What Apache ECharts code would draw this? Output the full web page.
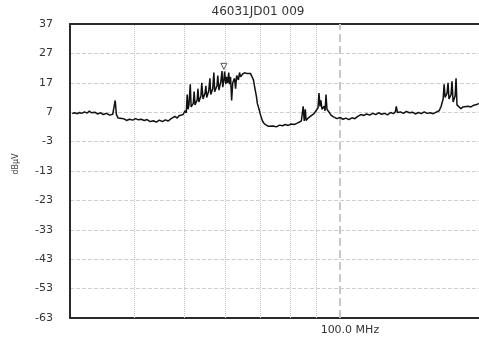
<!DOCTYPE html>
<html style="height: 100%">
<head>
<meta charset="utf-8">
<script src="https://cdn.jsdelivr.net/npm/echarts@6/dist/echarts.min.js"></script>
</head>
<body style="height: 100%; margin: 0; width: 100%; background: #fff;">
<div id="container" style="width: 479px; height: 338px;"></div>
<script type="text/javascript">
// spectrum scan (MHz, dBuV)
var freqMHz = [
    30.3, 30.6, 31.0, 31.3, 31.6, 32.0, 32.4, 32.7, 33.0, 33.5, 33.9, 34.4, 34.8, 35.3, 35.8, 36.3, 36.6, 36.7, 36.9, 37.2,
    37.5, 38.1, 38.6, 39.1, 39.7, 40.2, 40.7, 41.2, 41.8, 42.3, 42.9, 43.5, 44.1, 44.7, 45.3, 45.9, 46.5, 47.1, 47.5, 47.9,
    48.4, 48.8, 49.2, 49.7, 50.1, 50.4, 50.6, 50.8, 51.0, 51.3, 51.5, 52.0, 52.2, 52.4, 52.9, 53.1, 53.3, 53.8, 54.0, 54.3,
    54.8, 55.0, 55.2, 55.7, 56.0, 56.2, 56.7, 57.0, 57.2, 57.8, 58.0, 58.3, 58.8, 59.1, 59.3, 59.6, 59.8, 60.1, 60.3, 60.6,
    60.9, 61.1, 61.4, 61.7, 62.0, 62.5, 62.8, 63.1, 63.6, 63.9, 64.2, 64.8, 65.4, 66.0, 66.5, 67.1, 67.7, 68.0, 68.3, 68.9,
    69.2, 69.6, 70.2, 70.8, 71.4, 72.0, 72.7, 73.3, 74.3, 75.3, 76.4, 77.4, 78.4, 79.4, 80.5, 81.6, 82.7, 83.4, 84.2, 84.5,
    84.9, 85.3, 85.7, 86.0, 86.8, 87.5, 88.3, 89.1, 89.9, 90.7, 91.1, 91.5, 91.9, 92.3, 93.2, 93.6, 94.0, 94.4, 95.3, 96.1,
    97.0, 97.8, 98.7, 100.0, 101.4, 102.7, 104.1, 105.5, 106.9, 108.3, 109.8, 111.3, 112.7, 114.2, 115.8, 117.3, 118.9, 120.5, 122.1, 123.7,
    125.4, 127.0, 128.1, 128.6, 129.3, 131.0, 132.8, 134.5, 136.3, 138.2, 140.0, 141.9, 143.8, 145.7, 147.6, 149.6, 151.7, 153.7, 155.7, 157.1,
    158.5, 159.2, 159.9, 161.3, 162.0, 162.7, 164.2, 164.9, 165.7, 167.2, 167.9, 168.6, 170.1, 171.6, 173.2, 174.7, 177.0, 179.4, 181.8, 184.2,
    185.8
];
var levelDbuv = [
    6.5, 6.8, 6.5, 6.9, 6.6, 7.1, 6.7, 7.4, 6.8, 7.0, 6.4, 6.8, 6.2, 6.6, 6.0, 6.3, 6.0, 11.0, 6.2, 5.0,
    4.5, 4.8, 4.2, 4.6, 4.3, 4.8, 4.4, 4.6, 4.2, 4.5, 3.8, 4.1, 3.6, 4.3, 3.8, 4.4, 4.0, 4.8, 4.5, 5.6,
    5.0, 5.8, 5.2, 6.2, 7.5, 6.8, 13.0, 8.0, 9.5, 16.5, 8.8, 10.0, 14.0, 9.5, 11.2, 15.0, 10.5, 12.5, 17.0, 11.5,
    13.5, 16.0, 12.0, 14.2, 18.5, 13.0, 15.0, 20.5, 14.0, 16.0, 19.5, 14.5, 17.5, 21.0, 15.5, 18.0, 20.8, 16.5, 19.0, 17.0,
    20.5, 16.5, 19.0, 11.0, 17.0, 18.5, 15.0, 19.5, 18.0, 20.5, 19.0, 20.0, 20.4, 20.2, 20.5, 20.2, 19.8, 18.0, 16.0, 12.5,
    10.0, 8.5, 6.0, 4.0, 3.0, 2.5, 2.2, 2.0, 2.3, 2.0, 2.6, 2.4, 2.8, 2.5, 3.0, 2.8, 3.3, 3.1, 4.0, 3.5,
    9.0, 4.0, 8.0, 4.2, 5.0, 4.8, 6.0, 6.5, 7.5, 8.5, 13.5, 9.0, 11.0, 8.0, 9.0, 7.5, 13.0, 8.0, 7.0, 6.0,
    5.5, 5.2, 4.8, 5.2, 4.6, 5.0, 4.5, 5.1, 4.8, 5.6, 6.2, 5.9, 6.4, 6.0, 6.6, 6.2, 6.8, 6.3, 6.6, 6.1,
    6.9, 6.5, 7.2, 9.0, 6.9, 7.1, 6.6, 7.3, 6.8, 7.0, 6.4, 6.9, 6.5, 7.1, 6.6, 6.8, 6.5, 7.0, 7.5, 9.0,
    11.5, 16.5, 12.0, 13.5, 17.0, 11.5, 13.0, 17.5, 10.5, 12.5, 18.5, 9.5, 9.0, 8.2, 8.8, 8.5, 9.0, 8.8, 9.4, 9.6,
    10.0
];
var gridFreqs = [40, 50, 60, 70, 80, 90];
var centerFreq = 100;
var markerPoint = [59.6, 22.6];

var dom = document.getElementById("container");
var myChart = echarts.init(dom);
var option = null;

var seriesData = freqMHz.map(function (f, i) { return [f, levelDbuv[i]]; });

var gridLines = gridFreqs.map(function (f) {
    return {xAxis: f, lineStyle: {type: 'dotted', color: '#c4c4c4', width: 1}};
});
gridLines.push({xAxis: centerFreq, lineStyle: {type: 'dashed', color: '#c8c8c8', width: 2}});

var frameLine = {show: true, onZero: false, lineStyle: {color: '#2a2a2a', width: 2}};

option = {
    backgroundColor: '#fff',
    animation: false,
    textStyle: {fontFamily: 'DejaVu Sans, sans-serif'},
    title: {
        text: '46031JD01 009',
        left: 253,
        top: 1,
        textAlign: 'center',
        textStyle: {fontSize: 12, fontWeight: 'normal', color: '#333', fontFamily: 'DejaVu Sans'}
    },
    grid: {
        left: 70,
        right: 0,
        top: 24,
        bottom: 20
    },
    xAxis: [
        {
            type: 'log',
            logBase: 10,
            min: 30,
            max: 186,
            position: 'bottom',
            axisLine: frameLine,
            axisTick: {show: false},
            splitLine: {show: false},
            axisLabel: {
                customValues: [centerFreq],
                formatter: function (v) { return v.toFixed(1) + ' MHz'; },
                fontSize: 11,
                color: '#333',
                margin: 7,
                padding: [0, 0, 0, 20]
            }
        },
        {
            type: 'value',
            min: 0,
            max: 1,
            position: 'top',
            axisLine: frameLine,
            axisTick: {show: false},
            axisLabel: {show: false},
            splitLine: {show: false}
        }
    ],
    yAxis: {
        type: 'value',
        min: -63,
        max: 37,
        interval: 10,
        name: 'dBµV',
        nameLocation: 'middle',
        nameGap: 50,
        nameTextStyle: {fontSize: 8, color: '#444', padding: [0, 0, 0, 14]},
        axisLine: frameLine,
        axisTick: {show: false},
        axisLabel: {fontSize: 11, color: '#333', margin: 17},
        splitLine: {lineStyle: {type: 'dashed', color: '#cfcfcf', width: 1}}
    },
    series: [
        {
            type: 'line',
            xAxisIndex: 0,
            data: seriesData,
            showSymbol: false,
            symbol: 'none',
            lineStyle: {color: '#111', width: 1.5},
            markLine: {
                silent: true,
                symbol: 'none',
                label: {show: false},
                data: gridLines
            },
            markPoint: {
                silent: true,
                symbol: 'path://M0,0 L10,0 L5,9 Z',
                symbolSize: [6, 6],
                itemStyle: {color: '#fff', borderColor: '#555', borderWidth: 1},
                label: {show: false},
                data: [{coord: markerPoint}]
            },
            z: 5
        }
    ]
};

if (option && typeof option === "object") {
    myChart.setOption(option, true);
}
</script>
</body>
</html>
